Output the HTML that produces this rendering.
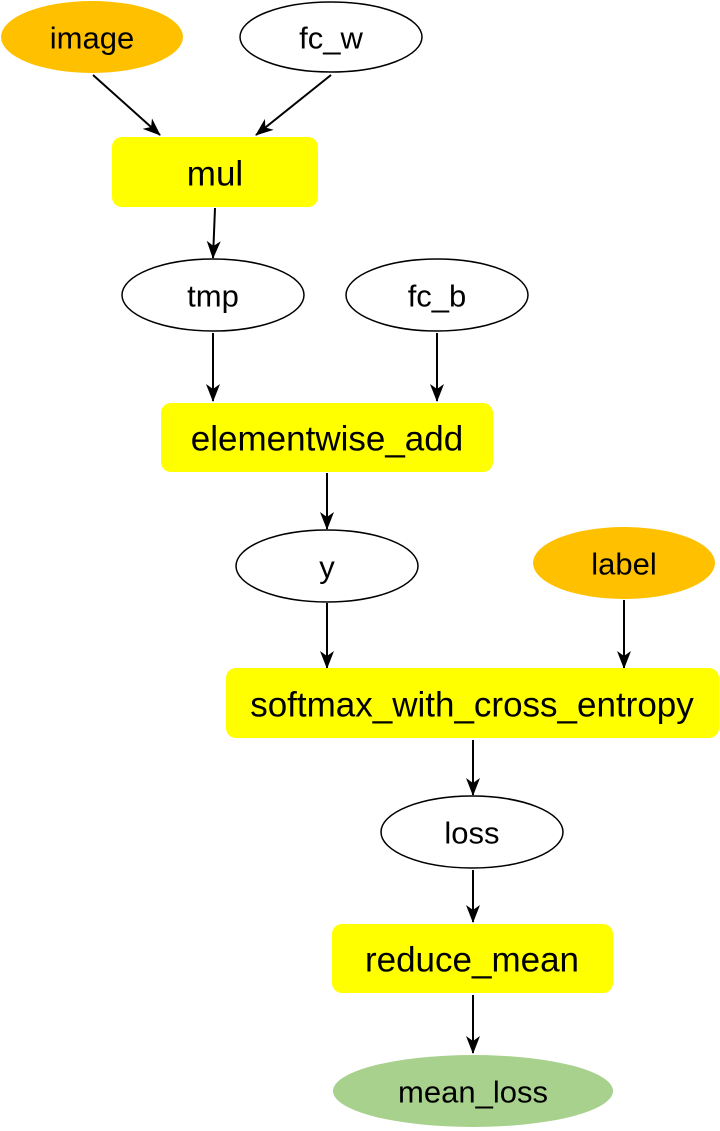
<!DOCTYPE html>
<html><head><meta charset="utf-8"><style>html,body{margin:0;padding:0;background:#fff}svg{display:block}</style></head>
<body>
<svg width="720" height="1131" viewBox="0 0 720 1131" xmlns="http://www.w3.org/2000/svg">
<defs>
<marker id="a" markerWidth="18" markerHeight="14" refX="17" refY="7" orient="auto" markerUnits="userSpaceOnUse">
<path d="M0,0 L18,7 L0,14 L5,7 Z" fill="#000"/>
</marker>
</defs>
<g stroke="#000" stroke-width="2" fill="none" marker-end="url(#a)">
<line x1="93" y1="75" x2="160" y2="135"/>
<line x1="331" y1="75" x2="256" y2="135"/>
<line x1="215" y1="208" x2="213" y2="258"/>
<line x1="213" y1="333" x2="213" y2="401"/>
<line x1="437" y1="333" x2="437" y2="401"/>
<line x1="327" y1="473" x2="327" y2="529"/>
<line x1="327" y1="603" x2="327" y2="668"/>
<line x1="624" y1="600" x2="624" y2="668"/>
<line x1="473" y1="740" x2="473" y2="795"/>
<line x1="473" y1="870" x2="473" y2="922"/>
<line x1="473" y1="995" x2="473" y2="1053"/>
</g>
<g font-family="Liberation Sans, sans-serif" font-size="31" text-anchor="middle" dominant-baseline="central">
<ellipse cx="92" cy="37" rx="91" ry="36" fill="#FFC000"/>
<text x="92" y="38">image</text>
<ellipse cx="331" cy="37" rx="91" ry="35" fill="#fff" stroke="#000" stroke-width="1.5"/>
<text x="331" y="38">fc_w</text>
<rect x="112" y="137" width="206" height="70" rx="10" fill="#FFFF00"/>
<text x="215" y="174" font-size="35">mul</text>
<ellipse cx="213" cy="295" rx="91" ry="36" fill="#fff" stroke="#000" stroke-width="1.5"/>
<text x="213" y="296">tmp</text>
<ellipse cx="437" cy="295" rx="91" ry="36" fill="#fff" stroke="#000" stroke-width="1.5"/>
<text x="437" y="296">fc_b</text>
<rect x="161" y="403" width="332" height="69" rx="10" fill="#FFFF00"/>
<text x="327" y="439" font-size="35">elementwise_add</text>
<ellipse cx="327" cy="566" rx="91" ry="36" fill="#fff" stroke="#000" stroke-width="1.5"/>
<text x="327" y="567">y</text>
<ellipse cx="624" cy="563" rx="91" ry="36" fill="#FFC000"/>
<text x="624" y="564">label</text>
<rect x="226" y="668" width="493" height="70" rx="10" fill="#FFFF00"/>
<text x="472" y="705" font-size="35">softmax_with_cross_entropy</text>
<ellipse cx="472" cy="832" rx="91" ry="36" fill="#fff" stroke="#000" stroke-width="1.5"/>
<text x="472" y="833">loss</text>
<rect x="332" y="924" width="281" height="69" rx="10" fill="#FFFF00"/>
<text x="472" y="960" font-size="35">reduce_mean</text>
<ellipse cx="473" cy="1091" rx="140" ry="36" fill="#A9D18E"/>
<text x="473" y="1092">mean_loss</text>
</g>
</svg>
</body></html>
